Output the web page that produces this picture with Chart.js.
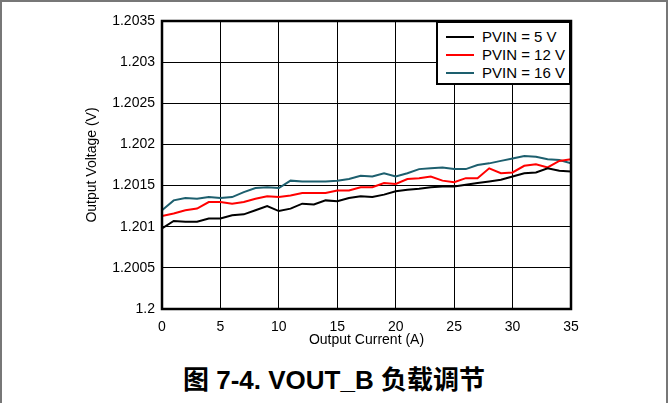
<!DOCTYPE html>
<html>
  <head>
    <meta charset="utf-8" />
    <title>VOUT_B Load Regulation</title>
    <style>
      body { margin: 0; background: #fff; font-family: "Liberation Sans", Arial, sans-serif; }
      #frame { position: absolute; left: 0; top: 0; width: 664px; height: 410px; border: 2px solid #777; border-bottom: none; }
      #wrap { position: absolute; left: 0; top: 0; width: 668px; height: 349px; }
      #legend { position: absolute; left: 436px; top: 21px; width: 131px; height: 60px; background: #fff; border: 2px solid #000; }
      .row { position: absolute; left: 0; height: 18px; font-size: 15px; line-height: 18px; color: #000; white-space: nowrap; }
      .row span.swatch { position: absolute; left: 8px; top: 8px; width: 28px; height: 2px; }
      .row span.txt { position: absolute; left: 44px; top: 0; }
      #caption { position: absolute; left: 0; top: 359px; width: 668px; text-align: center; font-size: 26px; font-weight: bold; color: #000;
                 font-family: "Liberation Sans", "Noto Sans CJK SC", sans-serif; }
    </style>
  </head>
  <body>
    <div id="frame"></div>
    <div id="wrap"><canvas id="screen"></canvas></div>
    <div id="legend"></div>
    <div id="caption">图 7-4. VOUT_B 负载调节</div>
    <script src="https://cdn.jsdelivr.net/npm/chart.js@4.4.1/dist/chart.umd.min.js"></script>
    <script>
      // values, output current in A
      const current = [0, 1, 2, 3, 4, 5, 6, 7, 8, 9, 10, 11, 12, 13, 14, 15, 16, 17,
                       18, 19, 20, 21, 22, 23, 24, 25, 26, 27, 28, 29, 30, 31, 32, 33, 34, 35];

      const pvin5 = [1.20098, 1.20107, 1.20106, 1.20106, 1.2011, 1.2011, 1.20114, 1.20115, 1.2012, 1.20125,
                     1.20119, 1.20122, 1.20128, 1.20127, 1.20132, 1.20131, 1.20135, 1.20137, 1.20136, 1.20139,
                     1.20143, 1.20145, 1.20146, 1.20148, 1.20149, 1.20149, 1.20151, 1.20153, 1.20155, 1.20157,
                     1.20161, 1.20165, 1.20166, 1.20171, 1.20168, 1.20167];

      const pvin12 = [1.20113, 1.20116, 1.2012, 1.20122, 1.2013, 1.2013, 1.20128, 1.2013, 1.20134, 1.20137,
                      1.20136, 1.20138, 1.20141, 1.20141, 1.20141, 1.20144, 1.20144, 1.20148, 1.20148, 1.20153,
                      1.20152, 1.20158, 1.20159, 1.20161, 1.20156, 1.20154, 1.20159, 1.20159, 1.20171, 1.20165,
                      1.20166, 1.20174, 1.20176, 1.20172, 1.2018, 1.20182];

      const pvin16 = [1.2012, 1.20132, 1.20135, 1.20134, 1.20136, 1.20135, 1.20136, 1.20142, 1.20147, 1.20148,
                      1.20147, 1.20156, 1.20155, 1.20155, 1.20155, 1.20156, 1.20158, 1.20162, 1.20161, 1.20165,
                      1.20161, 1.20165, 1.2017, 1.20171, 1.20172, 1.2017, 1.2017, 1.20175, 1.20177, 1.2018,
                      1.20183, 1.20186, 1.20185, 1.20182, 1.20181, 1.20177];

      const seriesNames = ["PVIN = 5 V", "PVIN = 12 V", "PVIN = 16 V"];
      const seriesColors = ["#000000", "#ff0000", "#1d5f6e"];

      const yTickLabels = ["1.2", "1.2005", "1.201", "1.2015", "1.202", "1.2025", "1.203", "1.2035"];
      const xTickLabels = ["0", "5", "10", "15", "20", "25", "30", "35"];

      function toPoints(values) {
        return current.map((c, i) => ({ x: c, y: values[i] }));
      }

      const allSeries = [pvin5, pvin12, pvin16];
      const datasets = allSeries.map((vals, i) => ({
        label: seriesNames[i],
        data: toPoints(vals),
        borderColor: seriesColors[i],
        backgroundColor: seriesColors[i],
        borderWidth: 2,
        pointRadius: 0,
        tension: 0
      }));

      // thick frame round the plot area
      const frame = {
        id: "frame",
        afterDatasetsDraw(chart) {
          const a = chart.chartArea;
          const c = chart.ctx;
          c.save();
          c.strokeStyle = "#000";
          c.lineWidth = 2.5;
          c.strokeRect(a.left, a.top, a.right - a.left, a.bottom - a.top);
          c.restore();
        }
      };

      const tickFont = { family: "'Liberation Sans', Arial, sans-serif", size: 14 };

      const chart = new Chart(document.getElementById("screen").getContext("2d"), {
        type: "line",
        data: { datasets: datasets },
        options: {
          responsive: true,
          maintainAspectRatio: false,
          animation: false,
          layout: { padding: { left: 84, right: 97, top: 21, bottom: 0 } },
          plugins: { legend: { display: false }, tooltip: { enabled: false } },
          scales: {
            x: {
              type: "linear",
              min: 0,
              max: 35,
              afterFit: s => { s.height = 40; },
              grid: { color: "#000", lineWidth: 1, drawTicks: false },
              border: { display: false },
              ticks: {
                stepSize: 5,
                padding: 10,
                color: "#000",
                font: tickFont,
                maxRotation: 0,
                callback: (v, i) => xTickLabels[i]
              },
              title: { display: true, text: "Output Current (A)", color: "#000", font: tickFont, padding: 0 }
            },
            y: {
              min: 1.2,
              max: 1.2035,
              afterFit: s => { s.width = 78; },
              grid: { color: "#000", lineWidth: 1, drawTicks: false },
              border: { display: false },
              ticks: {
                stepSize: 0.0005,
                padding: 7,
                color: "#000",
                font: tickFont,
                callback: (v, i) => yTickLabels[i]
              },
              title: { display: true, text: "Output Voltage (V)", color: "#000", font: tickFont, padding: 0 }
            }
          }
        },
        plugins: [frame]
      });

      // legend box sits inside the plot, top right
      const legend = document.getElementById("legend");
      seriesNames.forEach((name, i) => {
        const row = document.createElement("div");
        row.className = "row";
        row.style.top = (5 + i * 18) + "px";
        row.innerHTML = '<span class="swatch" style="background:' + seriesColors[i] + '"></span><span class="txt">' + name + "</span>";
        legend.appendChild(row);
      });
    </script>
  </body>
</html>
